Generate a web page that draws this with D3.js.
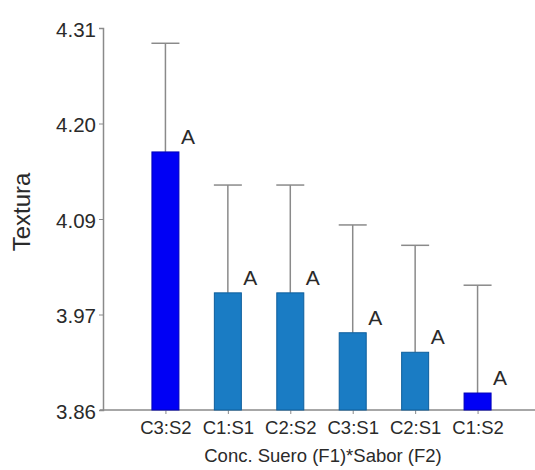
<!DOCTYPE html>
<html>
<head>
<meta charset="utf-8">
<script src="https://cdn.jsdelivr.net/npm/d3@7"></script>
<style>
  html, body { margin: 0; padding: 0; background: #fff; }
  svg { display: block; font-family: Arial, "Liberation Sans", sans-serif; }
</style>
</head>
<body>
<svg id="chart" width="535" height="470"></svg>
<script>
// Texture means by whey concentration x flavour
const categories = ["C3:S2", "C1:S1", "C2:S2", "C3:S1", "C2:S1", "C1:S2"];
const means      = [4.164, 3.998, 3.998, 3.951, 3.928, 3.880];
const errors     = [0.128, 0.127, 0.127, 0.127, 0.126, 0.127];
const letters    = ["A", "A", "A", "A", "A", "A"];
const yTickValues = [3.86, 3.9725, 4.085, 4.1975, 4.31];
const yTickLabels = ["3.86", "3.97", "4.09", "4.20", "4.31"];
const highlighted = ["C3:S2", "C1:S2"];

const svg = d3.select("#chart");
const axisColor = "#8a8a8a";
const textColor = "#2a2a2a";

const x = d3.scalePoint().domain(categories).range([103, 540]).padding(1);
const y = d3.scaleLinear().domain([3.86, 4.31]).range([410, 28]);
const barW = 27;

// Y axis
const yAxis = svg.append("g")
  .attr("transform", "translate(103,0)")
  .call(d3.axisLeft(y).tickValues(yTickValues)
    .tickFormat((d, i) => yTickLabels[i]).tickSize(4).tickPadding(3));
yAxis.select(".domain").attr("stroke", axisColor).attr("stroke-width", 1.5);
yAxis.selectAll(".tick line").attr("stroke", axisColor);
yAxis.selectAll(".tick text").attr("fill", textColor).attr("font-size", 20.5)
  .attr("dy", "0.4em")
  .attr("font-family", "Arial, 'Liberation Sans', sans-serif");

// X axis
const xAxis = svg.append("g")
  .attr("transform", "translate(0,410)")
  .call(d3.axisBottom(x).tickSize(4).tickPadding(7).tickSizeOuter(0));
xAxis.select(".domain").attr("stroke", axisColor).attr("stroke-width", 1.5)
  .attr("d", "M100,0H535");
xAxis.selectAll(".tick line").attr("stroke", axisColor);
xAxis.selectAll(".tick text").attr("fill", textColor).attr("font-size", 18.5)
  .attr("font-family", "Arial, 'Liberation Sans', sans-serif");

// Error bars (upper whisker)
const errG = svg.append("g");
categories.forEach((c, i) => {
  const cx = x(c);
  const top = y(means[i] + errors[i]);
  errG.append("line").attr("x1", cx).attr("x2", cx)
    .attr("y1", y(means[i])).attr("y2", top)
    .attr("stroke", axisColor).attr("stroke-width", 1.5);
  errG.append("line").attr("x1", cx - 14).attr("x2", cx + 14)
    .attr("y1", top).attr("y2", top)
    .attr("stroke", axisColor).attr("stroke-width", 1.5);
});

// Bars
svg.append("g").selectAll("rect")
  .data(categories)
  .join("rect")
  .attr("x", d => x(d) - barW / 2)
  .attr("width", barW)
  .attr("y", (d, i) => y(means[i]))
  .attr("height", (d, i) => y(3.86) - y(means[i]))
  .attr("fill", d => highlighted.includes(d) ? "#0000f5" : "#1a7cc4")
  .attr("stroke", d => highlighted.includes(d) ? "#0000b8" : "#0d5e9c")
  .attr("stroke-width", 1);

// Significance letters
svg.append("g").selectAll("text")
  .data(categories)
  .join("text")
  .attr("x", d => x(d) + barW / 2 + 2)
  .attr("y", (d, i) => y(means[i]) - 8)
  .attr("font-size", 21)
  .attr("fill", textColor)
  .text((d, i) => letters[i]);

// Axis titles
svg.append("text")
  .attr("transform", "translate(30,212) rotate(-90)")
  .attr("text-anchor", "middle")
  .attr("font-size", 24)
  .attr("fill", textColor)
  .text("Textura");

svg.append("text")
  .attr("x", 323).attr("y", 462)
  .attr("text-anchor", "middle")
  .attr("font-size", 18.5)
  .attr("fill", textColor)
  .text("Conc. Suero (F1)*Sabor (F2)");
</script>
</body>
</html>
